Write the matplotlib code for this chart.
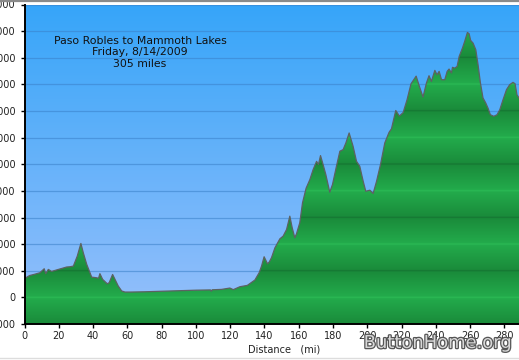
import numpy as np
import matplotlib
matplotlib.use("Agg")
import matplotlib.pyplot as plt
from matplotlib.patches import Polygon
from matplotlib.lines import Line2D
import matplotlib.patheffects as pe

# ---- data (miles, feet) ----
dist = [0, 0.9, 3, 6, 9, 11.5, 12.4, 13.9, 15.8, 19.7, 24.6, 26.5, 28.5, 30.8, 32.9, 34.3,
        36.3, 39.2, 41.7, 43.2, 44, 45.6, 48.3, 49.4, 51.4, 52.8, 54.7, 56.7, 58.6, 62, 70,
        80, 90, 100, 108.5, 109, 109.5, 115, 119.8, 121.8, 125.7, 130, 134.4, 136.9, 138.3,
        139.8, 141.8, 142.8, 144.1, 146.1, 149, 150.9, 152.9, 154.8, 156.2, 157.7, 158.7,
        160.6, 162.2, 164.3, 166.5, 168.4, 170.4, 171.5, 172.7, 174.2, 175.8, 178.1, 179.7,
        182, 184, 185.9, 187.5, 189.4, 191.7, 193.7, 195.6, 197.6, 199.1, 201.5, 203.4,
        205.4, 207.7, 210.2, 212.7, 214.1, 216.6, 218.7, 220.9, 223.2, 225.5, 228.5, 230.4,
        232.5, 234.5, 236, 237.4, 239.4, 240.7, 241.9, 243.3, 245.2, 246.6, 247.7, 249.1,
        249.7, 251, 252.4, 253.6, 255.5, 256.8, 258.4, 259.4, 260.3, 261.7, 263.3, 264.6,
        266, 267.5, 269.1, 270.4, 271.8, 273.8, 275.7, 277.3, 279.2, 281.2, 283.1, 285,
        286.2, 287.3, 288.5]
elev = [800, 740, 820, 870, 925, 1075, 890, 1050, 975, 1050, 1140, 1150, 1175, 1550, 2025, 1675,
        1240, 760, 740, 720, 890, 675, 510, 550, 860, 675, 425, 240, 200, 200, 210,
        230, 250, 270, 280, 230, 285, 300, 350, 290, 400, 450, 650, 925, 1175,
        1525, 1260, 1330, 1490, 1860, 2200, 2300, 2550, 3050, 2610, 2240, 2390,
        2800, 3550, 4100, 4425, 4800, 5110, 4990, 5325, 4990, 4610, 3950, 4240,
        4925, 5490, 5550, 5800, 6175, 5675, 5110, 4925, 4360, 3985, 4025, 3900,
        4360, 4990, 5800, 6200, 6330, 7020, 6810, 6940, 7425, 8020, 8310, 7920,
        7525, 8050, 8325, 8110, 8525, 8360, 8490, 8175, 8175, 8490, 8575, 8430,
        8640, 8610, 8675, 9050, 9360, 9610, 9950, 9900, 9650, 9550, 9300, 8740,
        8050, 7490, 7300, 7110, 6860, 6800, 6860, 7050, 7425, 7800, 7990, 8075,
        8025, 7610, 7490]

x_ticks = list(range(0, 281, 20))
y_ticks = list(range(-1000, 11001, 1000))
title_lines = "Paso Robles to Mammoth Lakes\nFriday, 8/14/2009\n305 miles"
xlabel = "Distance   (mi)"
watermark = "ButtonHome.org"

XMAX = 288.5
YMIN, YMAX = -1000, 11000

fig = plt.figure(figsize=(5.19, 3.6), dpi=100)
fig.patch.set_facecolor("white")
ax = fig.add_axes([24.5 / 519, 1 - 324 / 360, 1 - 24.5 / 519, (324 - 4.5) / 360])
ax.set_xlim(0, XMAX)
ax.set_ylim(YMIN, YMAX)

# background gradient
top = np.array([54, 165, 249]) / 255
bot = np.array([152, 192, 251]) / 255
t = np.linspace(0, 1, 400)[:, None]
bg = bot + (top - bot) * t
ax.imshow(bg[:, None, :].repeat(2, axis=1), extent=[0, XMAX, YMIN, YMAX],
          aspect="auto", origin="lower", zorder=0, interpolation="bilinear")

# gridlines
for yv in y_ticks:
    ax.axhline(yv, color="#3a80c8", lw=0.9, alpha=0.55, zorder=1)

# banded green fill
ys = np.linspace(YMIN, YMAX, 2400)
f = np.mod(ys / 1000.0, 2.0)
d = np.minimum(f, 2 - f)
bright = np.array([35, 172, 76]) / 255
dark = np.array([26, 138, 58]) / 255
col = bright[None, :] + (dark - bright)[None, :] * d[:, None]
col[d < 0.025] = np.array([42, 184, 84]) / 255
col[d > 0.975] = np.array([22, 120, 51]) / 255
img = ax.imshow(col[:, None, :].repeat(2, axis=1), extent=[0, XMAX, YMIN, YMAX],
                aspect="auto", origin="lower", zorder=2, interpolation="bilinear")
verts = list(zip(dist, elev)) + [(XMAX, YMIN), (0, YMIN)]
poly = Polygon(verts, closed=True, facecolor="none", edgecolor="none", transform=ax.transData)
ax.add_patch(poly)
img.set_clip_path(poly)
ax.plot(dist, elev, color="#5c6262", lw=0.9, zorder=3)

# axes styling
for s in ["top", "right"]:
    ax.spines[s].set_visible(False)
for s in ["left", "bottom"]:
    ax.spines[s].set_linewidth(1.4)
    ax.spines[s].set_color("black")
    ax.spines[s].set_zorder(5)
ax.set_xticks(x_ticks)
ax.set_xticklabels([str(v) for v in x_ticks])
ax.set_yticks(y_ticks)
ax.set_yticklabels([str(v) for v in y_ticks])
ax.tick_params(direction="out", length=3, width=1, color="black", labelsize=7,
               labelcolor="#222222")
ax.tick_params(axis="y", pad=3.5)
ax.tick_params(axis="x", pad=2)

fig.text(283.7 / 519, 1 - 349.5 / 360, xlabel, ha="center", va="center", fontsize=7,
         color="#222222")
ax.text(140 / 519, 1 - 35.5 / 360, title_lines, transform=fig.transFigure, ha="center",
        va="top", fontsize=7.8, color="#111111", linespacing=1.2, zorder=6)

fig.text(437.5 / 519, 1 - 343 / 360, watermark, ha="center", va="center", fontsize=12.9,
         color="#d8d8d8",
         path_effects=[pe.withStroke(linewidth=1.8, foreground="#555555")])

# frame lines of the screenshot
fig.add_artist(Line2D([0, 1], [1 - 1 / 360, 1 - 1 / 360], transform=fig.transFigure,
                      color="#8a8a8a", lw=1.6))
fig.add_artist(Line2D([0, 1], [1 - 358 / 360, 1 - 358 / 360], transform=fig.transFigure,
                      color="#dddddd", lw=1.0))

fig.savefig("out.png", dpi=100)
